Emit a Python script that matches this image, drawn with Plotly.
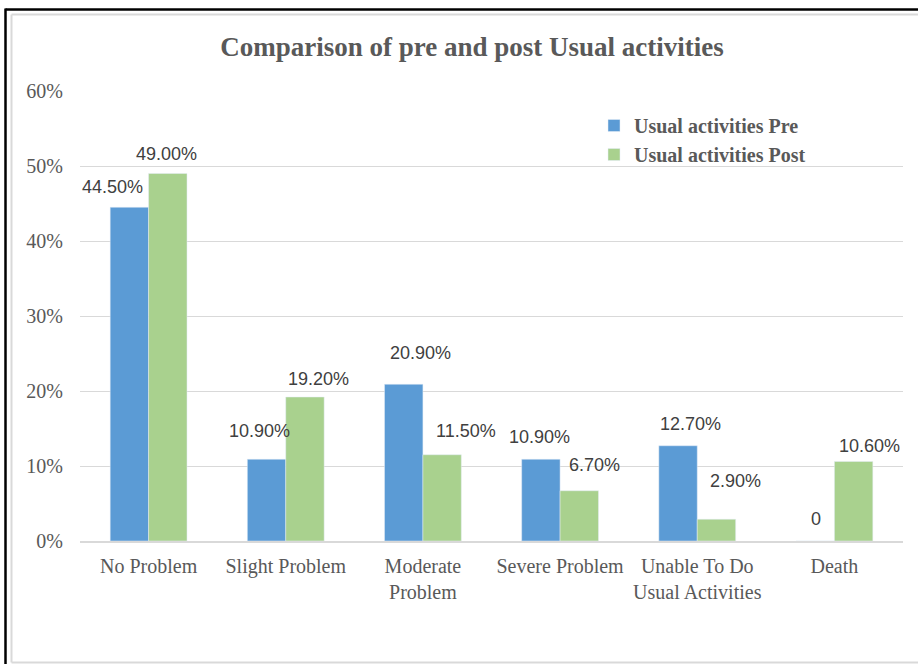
import plotly.graph_objects as go

# Chart data
categories = ["No Problem", "Slight Problem", "Moderate<br>Problem", "Severe Problem",
              "Unable To Do<br>Usual Activities", "Death"]
pre_values = [44.5, 10.9, 20.9, 10.9, 12.7, 0.0]
post_values = [49.0, 19.2, 11.5, 6.7, 2.9, 10.6]
y_ticks = [0, 10, 20, 30, 40, 50, 60]
y_tick_labels = [f"{t}%" for t in y_ticks]

# Label nudges (pixels) relative to the top centre of each bar
pre_label_dx = [-17, -7, 17, -1, 12, 1]
pre_label_dy = [20, 28, 31, 22, 22, 22]
post_label_dx = [-1, 14, 24, 15, 19, 16]
post_label_dy = [20, 18, 24, 26, 38, 16]

W, H = 918, 664
ML, MR, MT, MB = 80, 15, 91, 123
PW, PH = W - ML - MR, H - MT - MB
BARGAP = 0.44
half = (1 - BARGAP) / 4  # centre offset of each bar in a group


def px_x(p):
    return (p - ML) / PW


def px_y(p):
    return (H - MB - p) / PH


BLUE = "#5B9BD5"
GREEN = "#A9D18E"
TEXT = "#595959"
GRID = "#D9D9D9"

fig = go.Figure()
fig.add_trace(go.Bar(x=list(range(len(categories))), y=pre_values,
                     name="Usual activities Pre", marker_color=BLUE))
fig.add_trace(go.Bar(x=list(range(len(categories))), y=post_values,
                     name="Usual activities Post", marker_color=GREEN))


def fmt(v):
    return "0" if v == 0 else f"{v:.2f}%"


annotations = []
for i, v in enumerate(pre_values):
    annotations.append(dict(x=i - half, y=v, xref="x", yref="y", text=fmt(v),
                            showarrow=False, xanchor="center", yanchor="middle",
                            xshift=pre_label_dx[i], yshift=pre_label_dy[i],
                            font=dict(family="Liberation Sans", size=18, color="#404040")))
for i, v in enumerate(post_values):
    annotations.append(dict(x=i + half, y=v, xref="x", yref="y", text=fmt(v),
                            showarrow=False, xanchor="center", yanchor="middle",
                            xshift=post_label_dx[i], yshift=post_label_dy[i],
                            font=dict(family="Liberation Sans", size=18, color="#404040")))

shapes = [
    # outer black frame (top and left)
    dict(type="line", xref="paper", yref="paper", x0=px_x(5.5), x1=px_x(W + 5),
         y0=px_y(9.5), y1=px_y(9.5), line=dict(color="black", width=2.5)),
    dict(type="line", xref="paper", yref="paper", x0=px_x(5.5), x1=px_x(5.5),
         y0=px_y(8.5), y1=px_y(H + 5), line=dict(color="black", width=2.5)),
    # inner grey chart border
    dict(type="line", xref="paper", yref="paper", x0=px_x(11.5), x1=px_x(W + 5),
         y0=px_y(14.5), y1=px_y(14.5), line=dict(color=GRID, width=2)),
    dict(type="line", xref="paper", yref="paper", x0=px_x(11.5), x1=px_x(11.5),
         y0=px_y(14.5), y1=px_y(662.5), line=dict(color=GRID, width=2)),
    dict(type="line", xref="paper", yref="paper", x0=px_x(11.5), x1=px_x(W + 5),
         y0=px_y(662.5), y1=px_y(662.5), line=dict(color=GRID, width=2)),
]

fig.update_layout(
    width=W, height=H,
    margin=dict(l=ML, r=MR, t=MT, b=MB),
    paper_bgcolor="white", plot_bgcolor="white",
    barmode="group", bargap=BARGAP, bargroupgap=0,
    title=dict(text="<b>Comparison of pre and post Usual activities</b>",
               x=472 / W, xanchor="center", y=1 - 47 / H, yanchor="middle",
               font=dict(family="Liberation Serif", size=27, color=TEXT)),
    legend=dict(x=px_x(594), y=px_y(106), xanchor="left", yanchor="top",
                bgcolor="rgba(0,0,0,0)", tracegroupgap=0, itemwidth=30,
                valign="middle",
                font=dict(family="Liberation Serif", size=20, color=TEXT, weight="bold")),
    annotations=annotations,
    shapes=shapes,
    showlegend=True,
)

fig.update_xaxes(tickmode="array", tickvals=list(range(len(categories))), ticktext=categories,
                 range=[-0.5, len(categories) - 0.5],
                 showgrid=False, showline=True, linecolor=GRID, linewidth=1.5,
                 ticks="", ticklabelstandoff=6,
                 tickfont=dict(family="Liberation Serif", size=20, color=TEXT))
fig.update_yaxes(range=[0, 60], tickmode="array", tickvals=y_ticks, ticktext=y_tick_labels,
                 showgrid=True, gridcolor=GRID, gridwidth=1, zeroline=False,
                 showline=False, ticks="", ticklabelstandoff=16,
                 tickfont=dict(family="Liberation Serif", size=20, color=TEXT))

fig.write_html("out.html")
